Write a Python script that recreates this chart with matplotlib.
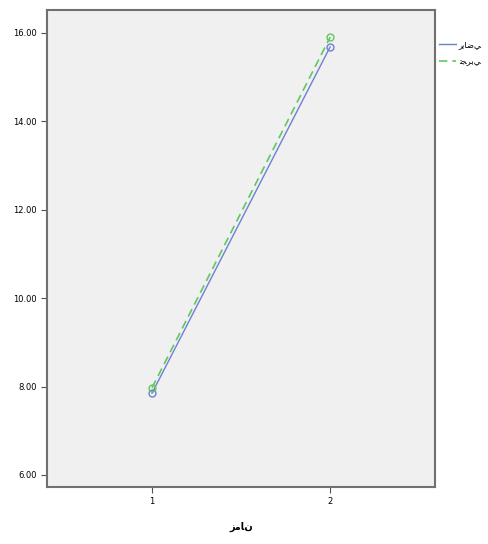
import matplotlib
matplotlib.use("Agg")
import matplotlib.pyplot as plt
from matplotlib.lines import Line2D

times = [1, 2]
# Arabic labels written with presentation forms (logical order)
series_names = ["\ufead\ufef3\ufe8e\ufebf\ufef2", "\ufe97\ufea0\ufeae\ufe91\ufef2"]
x_title = "\ufeaf\ufee3\ufe8e\ufee5"
riazi = [7.85, 15.68]
tajrobi = [7.97, 15.90]
yticks = [6.0, 8.0, 10.0, 12.0, 14.0, 16.0]

blue = "#6f7fd6"
green = "#5fc85f"

fig = plt.figure(figsize=(4.89, 5.44), dpi=100)
ax = fig.add_axes([0.096, 0.105, 0.794, 0.877])
ax.set_facecolor("#f0f0f0")
ax.plot(times, riazi, color=blue, lw=1.0, marker="o", ms=5, mfc="none", mec=blue)
ax.plot(times, tajrobi, color=green, lw=1.2, ls=(0, (5, 3)), marker="o", ms=5, mfc="none", mec=green)
ax.set_xlim(0.41, 2.59)
ax.set_ylim(5.73, 16.52)
ax.set_xticks(times)
ax.set_xticklabels([str(t) for t in times], fontsize=6)
ax.set_yticks(yticks)
ax.set_yticklabels([f"{v:.2f}" for v in yticks], fontsize=6)
for s in ax.spines.values():
    s.set_color("#707070")
    s.set_linewidth(1.5)
ax.tick_params(length=4, color="#505050")
ax.set_xlabel(x_title, fontsize=7, fontweight="bold", labelpad=11)
handles = [Line2D([], [], color=blue, lw=1.0),
           Line2D([], [], color=green, lw=1.2, ls=(0, (5, 3)))]
ax.legend(handles, series_names, loc="upper left", bbox_to_anchor=(0.998, 0.947), frameon=False,
          fontsize=6, handlelength=2.0, handletextpad=0.3, labelspacing=1.0, borderaxespad=0.2)
fig.savefig("out.png", dpi=100)
